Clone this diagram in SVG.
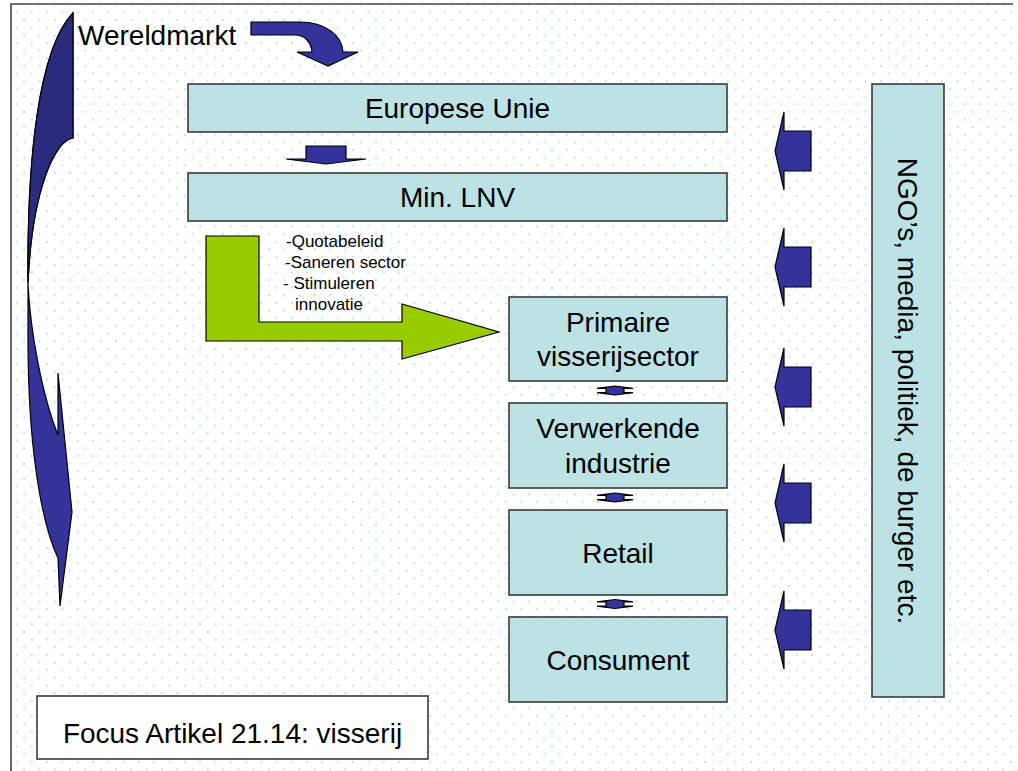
<svg xmlns="http://www.w3.org/2000/svg" xmlns:xlink="http://www.w3.org/1999/xlink" width="1018" height="771" viewBox="0 0 1018 771">
<style>
.box{fill:#bce2e4;stroke:#3a3a3a;stroke-width:1.6}
.plain{fill:#ffffff;stroke:#3a3a3a;stroke-width:1.6}
.blue{fill:#333399;stroke:#000;stroke-width:1.2;stroke-linejoin:miter}
.dark{fill:#2b2b7e;stroke:#000;stroke-width:1.2}
.green{fill:#99cc00;stroke:#000;stroke-width:1.2}
.lbl{font-family:"Liberation Sans",Arial,sans-serif;font-size:28px;fill:#000}
.mid{text-anchor:middle}
.small{font-family:"Liberation Sans",Arial,sans-serif;font-size:17px;fill:#000}
.frame{stroke:#444;stroke-width:1.6;fill:none}
</style>
<defs>
<pattern id="dots" patternUnits="userSpaceOnUse" x="12.7" y="8.5" width="15.3" height="15.3">
<circle cx="3.8" cy="3.8" r="1" fill="#a9dbe0"/>
<circle cx="11.45" cy="11.45" r="1" fill="#a9dbe0"/>
</pattern>
<path id="leftArrow" d="M36,-20 L9,-20 L9,-39 L0,0 L9,39 L9,20 L36,20 Z"/>
<path id="udArrow" d="M0,-4.5 L18,-2.2 L9,-2.2 L9,2.2 L18,2.2 L0,4.5 L-18,2.2 L-9,2.2 L-9,-2.2 L-18,-2.2 Z"/>
</defs>
<rect x="0" y="0" width="1018" height="771" fill="#ffffff"/>
<rect x="11" y="4" width="1007" height="767" fill="url(#dots)"/>
<path class="frame" d="M11,771 L11,4 L1013,4"/>

<g id="connectors">
<path class="blue" d="M73,13 L73,138 C55,140 32,190 28,283 C30,330 42,395 58,435 L58,373 L72,512 L60,606 L58,558 C40,520 28,440 28,340 L28,283 C27,160 38,50 73,13 Z"/>
<path class="dark" d="M73,13 L73,138 C55,140 32,190 28,283 C27,160 38,50 73,13 Z"/>
<path class="blue" d="M251,22 L300,22 C325,22 342,35 343,52 L358,52 L328,66 L297,52 L312,52 C311,42 305,35 295,35 L251,35 Z"/>
<path class="blue" d="M306,146 L346,146 L346,159 L366,159 L326,164 L286,159 L306,159 Z"/>
<path class="green" d="M206,236 L259,236 L259,322 L402,322 L402,304 L499,332 L402,359 L402,341 L206,341 Z"/>
<use xlink:href="#udArrow" class="blue" x="615" y="390.5"/>
<use xlink:href="#udArrow" class="blue" x="615" y="497.5"/>
<use xlink:href="#udArrow" class="blue" x="615" y="604"/>
<use xlink:href="#leftArrow" class="blue" x="775" y="151"/>
<use xlink:href="#leftArrow" class="blue" x="775" y="267"/>
<use xlink:href="#leftArrow" class="blue" x="775" y="387"/>
<use xlink:href="#leftArrow" class="blue" x="775" y="503"/>
<use xlink:href="#leftArrow" class="blue" x="775" y="630"/>
</g>

<g id="wereldmarkt">
<text class="lbl" x="78" y="45">Wereldmarkt</text>
</g>
<g id="europese-unie">
<rect class="box" x="188" y="84" width="539" height="48"/>
<text class="lbl mid" x="457.5" y="118">Europese Unie</text>
</g>
<g id="min-lnv">
<rect class="box" x="188" y="173" width="539" height="48"/>
<text class="lbl mid" x="457.5" y="207">Min. LNV</text>
</g>
<g id="beleid">
<text class="small" x="286" y="247">-Quotabeleid</text>
<text class="small" x="285" y="268">-Saneren sector</text>
<text class="small" x="283" y="289">- Stimuleren</text>
<text class="small" x="295" y="310">innovatie</text>
</g>
<g id="primaire">
<rect class="box" x="509" y="297" width="218" height="84"/>
<text class="lbl mid" x="618" y="331.5">Primaire</text>
<text class="lbl mid" x="618" y="365.5">visserijsector</text>
</g>
<g id="verwerkende">
<rect class="box" x="509" y="403" width="218" height="85"/>
<text class="lbl mid" x="618" y="438">Verwerkende</text>
<text class="lbl mid" x="618" y="472.5">industrie</text>
</g>
<g id="retail">
<rect class="box" x="509" y="510" width="218" height="85"/>
<text class="lbl mid" x="618" y="562.5">Retail</text>
</g>
<g id="consument">
<rect class="box" x="509" y="617" width="218" height="85"/>
<text class="lbl mid" x="618" y="669.5">Consument</text>
</g>
<g id="ngo">
<rect class="box" x="872" y="84" width="72" height="613"/>
<text class="lbl mid" transform="translate(898,391) rotate(90)">NGO’s, media, politiek, de burger etc.</text>
</g>
<g id="focus">
<rect class="plain" x="37" y="696" width="391" height="63"/>
<text class="lbl mid" x="232.5" y="743">Focus Artikel 21.14: visserij</text>
</g>
</svg>
